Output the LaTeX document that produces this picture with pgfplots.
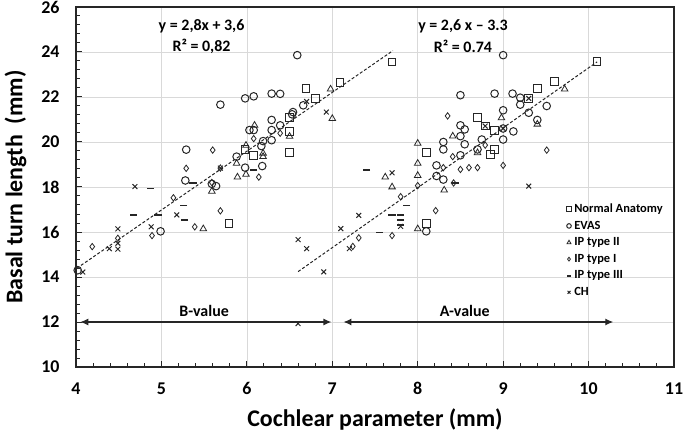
\documentclass[border=0pt]{standalone}
\usepackage{fontspec}
\setmainfont{Carlito}
\usepackage{pgfplots}
\pgfplotsset{compat=1.18}
\usetikzlibrary{arrows.meta}

\pgfplotstableread{
x y
6.69 22.38
7.09 22.64
6.80 21.94
6.50 21.08
6.50 20.47
5.98 19.67
6.08 19.40
6.50 19.52
5.79 16.37
7.70 23.56
10.10 23.59
9.60 22.70
9.40 22.38
9.30 21.94
8.70 21.08
8.79 20.71
8.90 20.52
8.10 19.52
8.85 19.45
8.90 19.67
8.10 16.37
}\normal

\pgfplotstableread{
x y
6.59 23.86
6.66 21.63
5.69 21.66
5.98 21.94
6.08 22.03
6.29 22.15
6.39 22.14
6.54 21.33
6.53 21.23
6.29 20.98
6.39 20.74
6.03 20.53
6.08 20.53
6.29 20.53
6.19 20.04
6.17 19.82
6.29 20.08
5.29 19.66
5.88 19.35
5.98 18.86
6.18 18.93
5.28 18.29
5.59 18.14
5.64 18.04
4.99 16.03
4.02 14.30
9.00 23.86
9.20 21.97
9.20 21.66
9.11 22.15
8.90 22.15
8.50 22.08
9.51 21.60
9.30 21.30
9.40 20.98
9.00 21.41
9.00 20.60
9.12 20.47
9.00 20.11
8.50 20.74
8.55 20.56
8.50 20.26
8.55 19.90
8.30 20.00
8.30 19.67
8.75 20.11
8.70 19.67
8.50 19.41
8.22 18.96
8.22 18.49
8.30 18.33
8.10 16.03
}\evas

\pgfplotstableread{
x y
6.98 22.35
7.00 21.04
6.09 20.74
6.50 20.25
5.99 19.85
6.19 19.50
6.19 19.35
5.88 19.05
5.99 18.56
5.89 18.44
5.59 17.81
5.49 16.14
9.72 22.35
9.40 20.79
8.98 21.07
8.41 20.26
8.00 19.94
8.70 19.52
8.00 19.05
8.00 18.51
7.62 18.44
7.70 18.00
8.31 17.86
8.00 16.14
}\iptwo

\pgfplotstableread{
x y
6.39 20.39
6.08 20.15
5.60 19.64
5.29 18.83
6.14 18.44
5.59 18.20
5.14 17.52
5.69 16.94
5.39 16.23
4.89 15.84
4.49 15.72
4.19 15.35
5.69 18.84
8.35 21.16
8.79 19.86
8.41 19.35
9.51 19.64
8.30 18.86
8.50 18.78
8.60 18.86
8.70 18.86
9.00 18.96
8.00 18.06
7.80 17.57
8.21 16.95
7.70 15.84
7.24 15.36
7.31 15.74
8.42 18.18
}\ipone

\pgfplotstableread{
x y
6.08 18.74
5.37 18.17
4.87 17.93
4.67 16.76
4.96 16.76
5.26 17.18
5.27 16.55
7.40 18.75
7.87 17.18
7.70 16.76
7.80 16.76
7.80 16.55
7.55 15.98
8.44 18.16
7.80 16.30
}\ipthree

\pgfplotstableread{
x y
6.70 21.80
6.93 21.33
4.69 18.02
5.18 16.76
4.88 16.23
4.49 16.14
4.49 15.50
4.49 15.24
4.39 15.26
4.08 14.22
6.60 15.66
6.70 15.26
6.90 14.23
6.60 11.93
5.69 18.84
7.10 16.15
7.31 16.74
7.20 15.26
7.70 18.63
9.30 18.04
8.79 20.71
9.30 21.94
9.00 20.60
7.80 16.25
}\ch

\begin{document}
\begin{tikzpicture}
\useasboundingbox (-76bp,-68bp) rectangle (609bp,367bp);
\begin{axis}[
  at={(0,0)}, anchor=south west,
  width=598bp, height=360bp, scale only axis,
  xmin=4, xmax=11, ymin=10, ymax=26,
  xtick={4,...,11}, ytick={10,12,...,26},
  minor x tick num=4, minor y tick num=4,
  tick pos=left, tick align=inside,
  major tick length=6bp, minor tick length=4bp,
  grid=major,
  major grid style={black!15, line width=0.7bp},
  axis line style={line width=1.3bp, black!85},
  tick style={line width=1bp, black!85},
  /pgf/number format/assume math mode=true,
  ticklabel style={font=\bfseries\fontsize{18}{20}\selectfont},
  xticklabel style={yshift=-12bp},
  yticklabel style={xshift=-13bp},
  xlabel={Cochlear parameter (mm)},
  ylabel={Basal turn length\ \ (mm)},
  label style={font=\bfseries\fontsize{24}{26}\selectfont},
  xlabel style={yshift=-7bp},
  ylabel style={yshift=8bp},
  legend style={at={(0.812,0.462)}, anchor=north west, draw=none, fill=none,
    font=\bfseries\fontsize{12.5}{13}\selectfont, row sep=5bp,
    nodes={inner sep=1bp}},
  legend cell align=left,
  legend image code/.code={\path[draw=none,fill=none] (0cm,0cm) (0.3cm,0cm); \draw[#1, every mark/.append style={scale=0.6}] plot coordinates {(0.15cm,0cm)};},
]
\addplot[densely dashed, line width=1bp, black!85, forget plot] coordinates {(4.01,14.39) (7.71,24.06)};
\addplot[densely dashed, line width=1bp, black!85, forget plot] coordinates {(6.60,14.24) (10.10,23.56)};

\addplot[only marks, mark=square, mark size=3.8bp, mark options={solid, line width=1bp, draw=black!85, fill=none}] table {\normal};
\addlegendentry{Normal Anatomy}
\addplot[only marks, mark=o, mark size=3.8bp, mark options={solid, line width=1bp, draw=black!85, fill=none}] table {\evas};
\addlegendentry{EVAS}
\addplot[only marks, mark=triangle, mark size=3.8bp, mark options={solid, line width=0.8bp, draw=black!85, fill=none}] table {\iptwo};
\addlegendentry{IP type II}
\addplot[only marks, mark=diamond, mark size=3.2bp, mark options={solid, line width=0.8bp, draw=black!85, fill=none}] table {\ipone};
\addlegendentry{IP type I}
\addplot[only marks, mark=-, mark size=3.6bp, mark options={solid, line width=1.8bp, draw=black!85}] table {\ipthree};
\addlegendentry{IP type III}
\addplot[only marks, mark=x, mark size=3.4bp, mark options={solid, line width=1bp, draw=black!85}] table {\ch};
\addlegendentry{CH}

\node[font=\bfseries\fontsize{16}{18}\selectfont] at (axis cs:5.47,25.16) {y = 2,8x + 3,6};
\node[font=\bfseries\fontsize{16}{18}\selectfont] at (axis cs:5.47,24.24) {R² = 0,82};
\node[font=\bfseries\fontsize{16}{18}\selectfont] at (axis cs:8.53,25.16) {y = 2,6 x – 3.3};
\node[font=\bfseries\fontsize{16}{18}\selectfont] at (axis cs:8.53,24.24) {R² = 0.74};

\draw[{Latex[length=8bp,width=7bp]}-{Latex[length=8bp,width=7bp]}, line width=1.3bp, black!85] (axis cs:4.05,12) -- (axis cs:6.99,12);
\draw[{Latex[length=8bp,width=7bp]}-{Latex[length=8bp,width=7bp]}, line width=1.3bp, black!85] (axis cs:7.13,12) -- (axis cs:10.29,12);
\node[font=\bfseries\fontsize{16}{18}\selectfont] at (axis cs:5.50,12.5) {B-value};
\node[font=\bfseries\fontsize{16}{18}\selectfont] at (axis cs:8.55,12.5) {A-value};
\end{axis}
\end{tikzpicture}
\end{document}
